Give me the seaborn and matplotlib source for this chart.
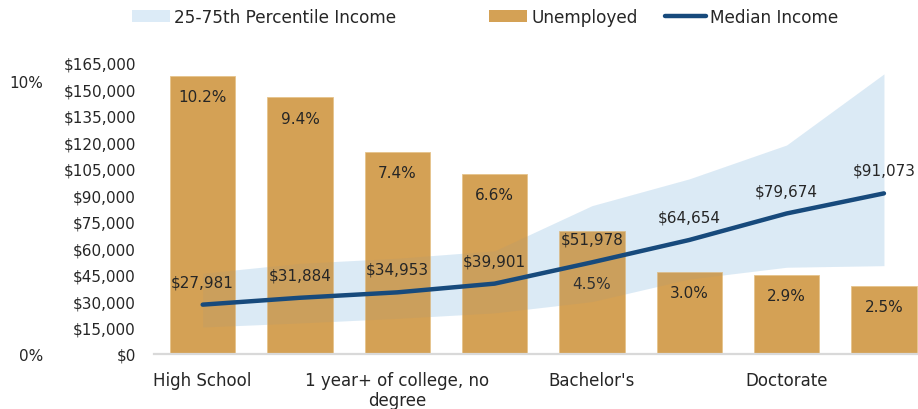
import matplotlib
matplotlib.use("Agg")
import matplotlib.pyplot as plt
import seaborn as sns
import numpy as np
import pandas as pd
from matplotlib.patches import Patch
from matplotlib.lines import Line2D

# ---------------- data ----------------
categories = ["High School", "Less than 1 year of college", "1 year+ of college, no\ndegree",
              "Associate's", "Bachelor's", "Master's", "Doctorate", "Professional"]
tick_labels = ["High School", "", "1 year+ of college, no\ndegree", "", "Bachelor's", "",
               "Doctorate", ""]
unemployed = [10.2, 9.4, 7.4, 6.6, 4.5, 3.0, 2.9, 2.5]
median_income = [27981, 31884, 34953, 39901, 51978, 64654, 79674, 91073]
p25_income = [15300, 17600, 20200, 23300, 29700, 42500, 49200, 50100]
p75_income = [45800, 51400, 54300, 58500, 84100, 99300, 118500, 158800]
dollar_ticks = list(range(0, 165001, 15000))
pct_ticks = [0, 10]

# ---------------- style ----------------
sns.set_theme(style="white")
plt.rcParams["font.family"] = ["DejaVu Sans"]
TXT = "#262626"
BAR = "#D4A155"
BAND = "#E6F5FF"
BAND_VIS = "#DCEBF7"
OVER = "#8090A0"
LINE = "#174A7C"

fig = plt.figure(figsize=(9.18, 4.10), dpi=100)
ax = fig.add_axes([154 / 918, 55 / 410, 764 / 918, 291 / 410])
x = np.arange(len(categories))

# band (behind bars)
ax.fill_between(x, p25_income, p75_income, color=BAND, lw=0, zorder=1)
ax.set_ylim(0, 165000)

# bars on percent axis
ax2 = ax.twinx()
df = pd.DataFrame({"category": categories, "unemployed": unemployed})
sns.barplot(data=df, x="category", y="unemployed", order=categories, ax=ax2,
            color=BAR, saturation=1, width=0.67, zorder=2, edgecolor="#E6C48C",
            linewidth=0.6)
ax2.set_ylim(0, 10.66)

# overlay + line on third axis (dollar scale)
ax3 = ax.twinx()
ax3.set_ylim(0, 165000)
ax3.fill_between(x, p25_income, p75_income, color=OVER, alpha=0.1, lw=0, zorder=1)
sns.lineplot(x=x, y=median_income, ax=ax3, color=LINE, lw=3.2,
             solid_capstyle="round", zorder=3)

# dollar labels
for xi, v in zip(x, median_income):
    ax3.annotate(f"${v:,.0f}", (xi, v), xytext=(0, 16.5), textcoords="offset points",
                 ha="center", va="center", fontsize=11, color=TXT, zorder=5)

# percent labels
for xi, v in zip(x, unemployed):
    off = -15 if v != 4.5 else -38
    ax2.annotate(f"{v:.1f}%", (xi, v), xytext=(0, off), textcoords="offset points",
                 ha="center", va="center", fontsize=11, color=TXT, zorder=5)

# axes formatting
for a in (ax, ax2, ax3):
    a.set_xlim(-0.5, 7.35)
    a.set_xlabel("")
    a.set_ylabel("")
    for s in a.spines.values():
        s.set_visible(False)
    a.grid(False)

ax.set_yticks(dollar_ticks)
ax.set_yticklabels([f"${t:,.0f}" for t in dollar_ticks])
ax.tick_params(axis="y", length=0, pad=13, labelsize=11, labelcolor=TXT)

ax2.set_yticks(pct_ticks)
ax2.set_yticklabels([f"{t}%" for t in pct_ticks])
ax2.yaxis.set_ticks_position("left")
ax2.tick_params(axis="y", left=False, right=False, labelleft=True, labelright=False,
                length=0, pad=80, labelsize=11, labelcolor=TXT)
ax2.spines["bottom"].set_visible(True)
ax2.spines["bottom"].set_color("#D9D9D9")
ax2.spines["bottom"].set_linewidth(1.6)

ax3.set_yticks([])

ax.set_xticks(x)
ax.set_xticklabels(tick_labels)
ax.tick_params(axis="x", length=0, pad=12, labelsize=12, labelcolor=TXT)

# legend entries
entries = [
    (Patch(facecolor=BAND_VIS, edgecolor="none"), "25-75th Percentile Income", 132, 2.25),
    (Patch(facecolor=BAR, edgecolor="none"), "Unemployed", 489, 2.25),
    (Line2D([], [], color=LINE, lw=3.2, solid_capstyle="round"), "Median Income", 665, 2.4),
]
for h, lab, px, hl in entries:
    fig.legend(handles=[h], labels=[lab], loc="center left",
               bbox_to_anchor=(px / 918, 1 - 18 / 410), frameon=False,
               borderpad=0, borderaxespad=0, handlelength=hl, handletextpad=0.25,
               fontsize=12.2, labelcolor=TXT)

fig.savefig("out.png", dpi=100)
